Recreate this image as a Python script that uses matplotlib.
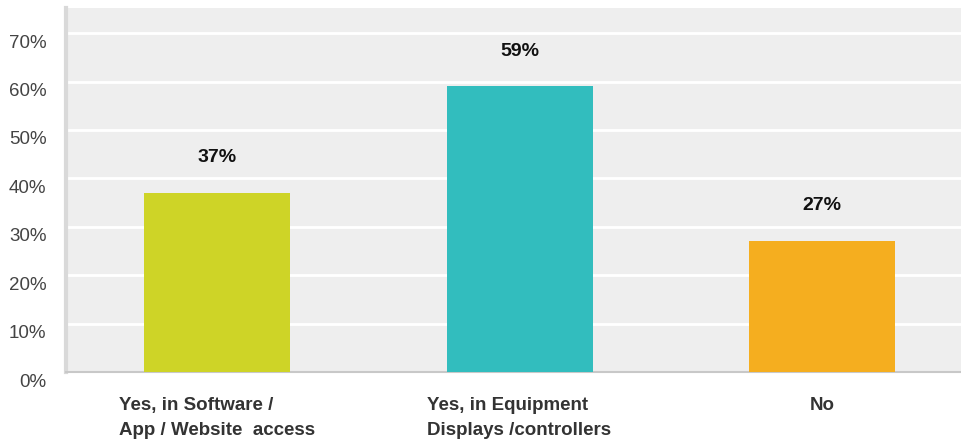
import matplotlib.pyplot as plt
from matplotlib.transforms import ScaledTranslation

plt.rcParams['font.family'] = ['Liberation Sans', 'DejaVu Sans']

categories = ['Yes, in Software /\nApp / Website  access',
              'Yes, in Equipment\nDisplays /controllers',
              'No']
values = [37, 59, 27]
colors = ['#CED427', '#32BDBE', '#F5AE1F']
yticks = [0, 10, 20, 30, 40, 50, 60, 70]

fig = plt.figure(figsize=(9.61, 4.40), dpi=100)
ax = fig.add_axes([0.0687, 0.1545, 0.9313, 0.8275])
ax.set_facecolor('#EEEEEE')

x = range(len(values))
ax.bar(x, values, width=0.483, color=colors, zorder=3)
for i, v in enumerate(values):
    ax.text(i, v + 7.3, f'{v}%', ha='center', va='center',
            fontsize=14, fontweight='bold', color='#111111', zorder=4)

ax.set_ylim(0, 75.2)
ax.set_xlim(-0.5, 2.46)
ax.set_yticks(yticks)
ax.set_yticklabels([f'{t}%' for t in yticks], fontsize=13.5, color='#444444')
ax.yaxis.grid(True, color='white', linewidth=2, zorder=1)
ax.set_axisbelow(True)
ax.tick_params(axis='y', length=0, pad=14)
ax.tick_params(axis='x', length=0, pad=18)
ax.set_xticks(list(x))
ax.set_xticklabels(categories, fontsize=13.5, fontweight='bold', color='#333333',
                   multialignment='left', linespacing=1.6)

# y labels sit a little below their gridlines in the original
shift = ScaledTranslation(0, -8 / 100, fig.dpi_scale_trans)
for lab in ax.get_yticklabels():
    lab.set_horizontalalignment('right')
    lab.set_transform(lab.get_transform() + shift)

ax.spines['top'].set_visible(False)
ax.spines['right'].set_visible(False)
ax.spines['left'].set_color('#D9D9D9')
ax.spines['left'].set_linewidth(3)
ax.spines['bottom'].set_color('#C8C8C8')
ax.spines['bottom'].set_linewidth(1.5)

fig.savefig('out.png', dpi=100)
